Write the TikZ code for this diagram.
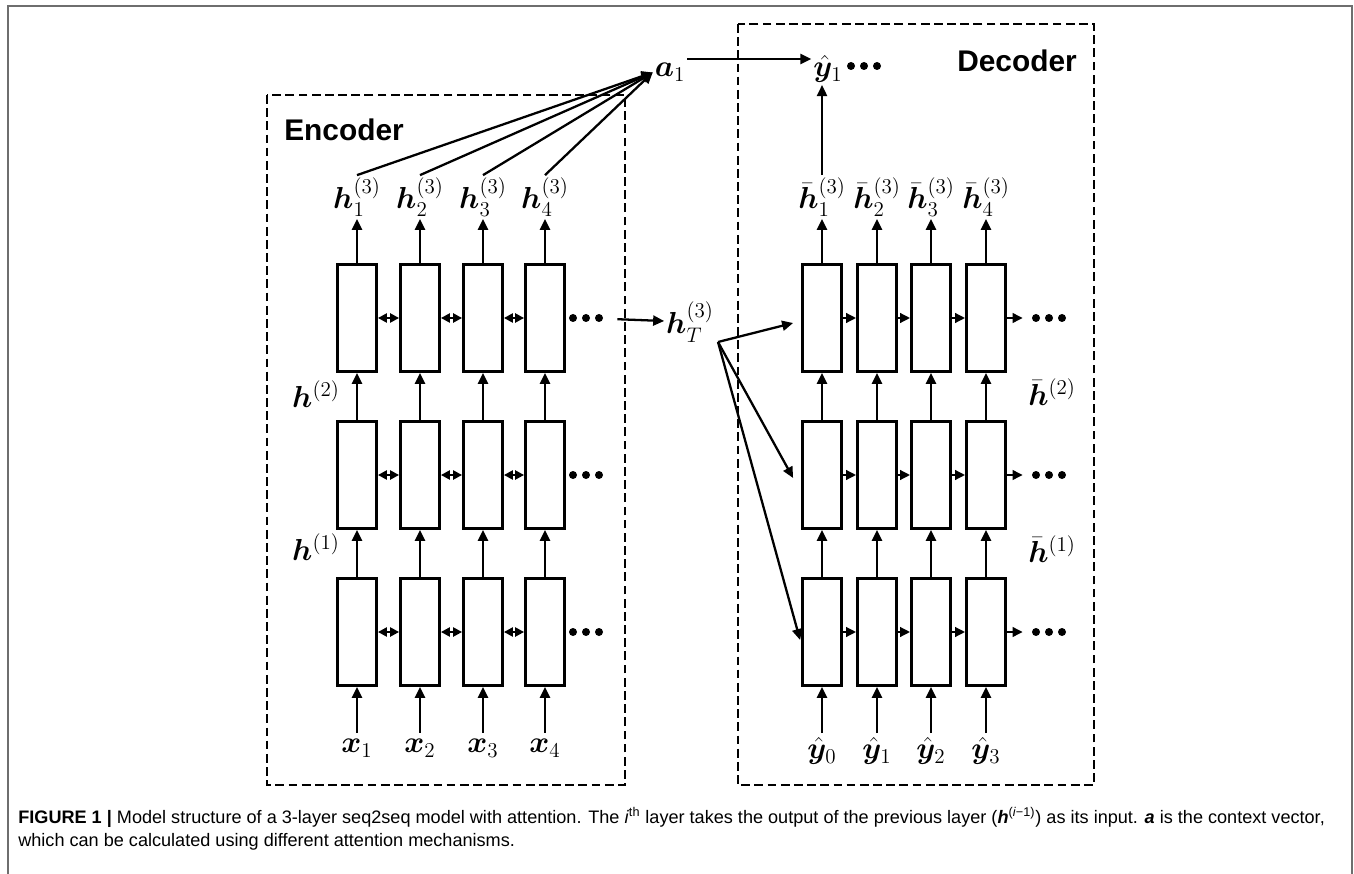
\documentclass[tikz,border=0pt]{standalone}
\usepackage{amsmath,bm}
\usepackage{fontspec}
\setsansfont{Liberation Sans}
\usetikzlibrary{positioning,calc,arrows.meta}
\definecolor{framegray}{HTML}{6E6E6E}
\tikzset{
  cell/.style={rectangle,draw,line width=1.6pt,minimum width=0.78cm,minimum height=2.14cm,inner sep=0},
  arr/.style={-{Triangle[length=0.22cm,width=0.2cm]},line width=1.3pt},
  biarr/.style={{Triangle[length=0.18cm,width=0.18cm]}-{Triangle[length=0.18cm,width=0.18cm]},line width=1.3pt},
  fwdarr/.style={-{Triangle[length=0.2cm,width=0.19cm]},line width=1.3pt},
  lab/.style={inner sep=1pt,font=\fontsize{16.5}{20}\selectfont},
  title/.style={font=\sffamily\bfseries\fontsize{17}{20}\selectfont},
  block/.style={draw,dash pattern=on 5pt off 2.5pt,line width=0.7pt},
  captext/.style={anchor=base west,inner sep=0,font=\sffamily\fontsize{10.3}{12}\selectfont},
  % three fat dots: the sequence goes on
  dots/.style={minimum width=0.72cm,minimum height=0.2cm,inner sep=0,
    path picture={\foreach \k in {-1,0,1}
      \fill ($(path picture bounding box.center)+(\k*0.26cm,0)$) circle[radius=0.08cm];}},
}
\begin{document}
\begin{tikzpicture}[x=0.02cm,y=-0.02cm]
  \useasboundingbox (0,0) rectangle (1354,874);
  \draw[framegray,line width=0.9pt] (8,874) -- (8,6) -- (1352,6) -- (1352,874);
  % the two dashed blocks
  \draw[block] (267,95) rectangle (625,785);
  \draw[block] (738,24) rectangle (1094,785);
  \node[title] (enc) at (344,130) {Encoder};
  \node[title] (dec) at (1017,61) {Decoder};
  % cells, rows counted from the bottom
  \foreach \r/\y in {1/632,2/475,3/318} {
    \foreach \c/\x in {1/357,2/420,3/483,4/545} \node[cell] (e\r\c) at (\x,\y) {};
    \foreach \c/\x in {1/822,2/877,3/931,4/986} \node[cell] (d\r\c) at (\x,\y) {};
    \node[dots] (edots\r) at (586,\y) {};
    \node[dots] (ddots\r) at (1049,\y) {};
  }
  \foreach \r in {1,2,3} {
    \foreach \c/\n in {1/2,2/3,3/4} {
      \draw[biarr] (e\r\c) -- (e\r\n);
      \draw[fwdarr] (d\r\c) -- (d\r\n);
    }
    \draw[fwdarr,shorten >=0.16cm] (d\r4) -- (ddots\r);
  }
  \foreach \c in {1,...,4} {
    \draw[arr] (e1\c) -- (e2\c);
    \draw[arr] (e2\c) -- (e3\c);
    \draw[arr] (d1\c) -- (d2\c);
    \draw[arr] (d2\c) -- (d3\c);
  }
  % inputs and outputs
  \foreach \c/\x in {1/357,2/420,3/483,4/545} {
    \node[lab] (x\c) at (\x,748) {$\bm{x}_{\c}$};
    \node[lab] (h\c) at (\x,197) {$\bm{h}^{(3)}_{\c}$};
    \draw[arr,shorten <=0.08cm] (x\c) -- (e1\c);
    \draw[arr] (e3\c) -- (h\c);
  }
  \foreach \c/\x [evaluate=\c as \p using int(\c-1)] in {1/822,2/877,3/931,4/986} {
    \node[lab] (yh\c) at (\x,751) {$\hat{\bm{y}}_{\p}$};
    \node[lab] (hb\c) at (\x,197) {$\bar{\bm{h}}^{(3)}_{\c}$};
    \draw[arr,shorten <=0.04cm] (yh\c) -- (d1\c);
    \draw[arr] (d3\c) -- (hb\c);
  }
  \node[lab] (hl2) at (316,394) {$\bm{h}^{(2)}$};
  \node[lab] (hl1) at (316,547) {$\bm{h}^{(1)}$};
  \node[lab] (hbl2) at (1052,392) {$\bar{\bm{h}}^{(2)}$};
  \node[lab] (hbl1) at (1052,549) {$\bar{\bm{h}}^{(1)}$};
  % attention
  \node[lab,anchor=base] (a1) at (670,77) {$\bm{a}_1$};
  \node[lab,anchor=base] (yt) at (828,77) {$\hat{\bm{y}}_1$};
  \node[dots] (tdots) at (864,66) {};
  \foreach \c in {1,...,4} \draw[arr] (h\c.north) -- (a1.west);
  \draw[arr] ([yshift=0.36cm]a1.base east) -- ([yshift=0.36cm]yt.base west);
  \draw[arr] (hb1) -- (yt.south -| hb1);
  % last encoder state feeds every decoder layer
  \node[lab] (hT) at (690,322) {$\bm{h}^{(3)}_{T}$};
  \draw[arr,shorten <=0.26cm] (edots3) -- (hT);
  \coordinate (fan) at (718,342);
  \draw[arr] (fan) -- ([shift={(-0.16cm,-0.1cm)}]d31.west);
  \draw[arr] (fan) -- ([shift={(-0.16cm,-0.06cm)}]d21.west);
  \draw[arr] (fan) -- ([shift={(-0.02cm,-0.16cm)}]d11.west);
  % caption
  \node[captext] (cap1) at (18,823) {\textbf{FIGURE 1 |} Model structure of a 3-layer seq2seq model with attention. The \textit{i}\textsuperscript{th} layer takes the output of the previous layer (\textbf{\textit{h}}\textsuperscript{(\textit{i}−1)}) as its input. \textbf{\textit{a}} is the context vector,};
  \node[captext] (cap2) at (18,846) {which can be calculated using different attention mechanisms.};
\end{tikzpicture}
\end{document}
